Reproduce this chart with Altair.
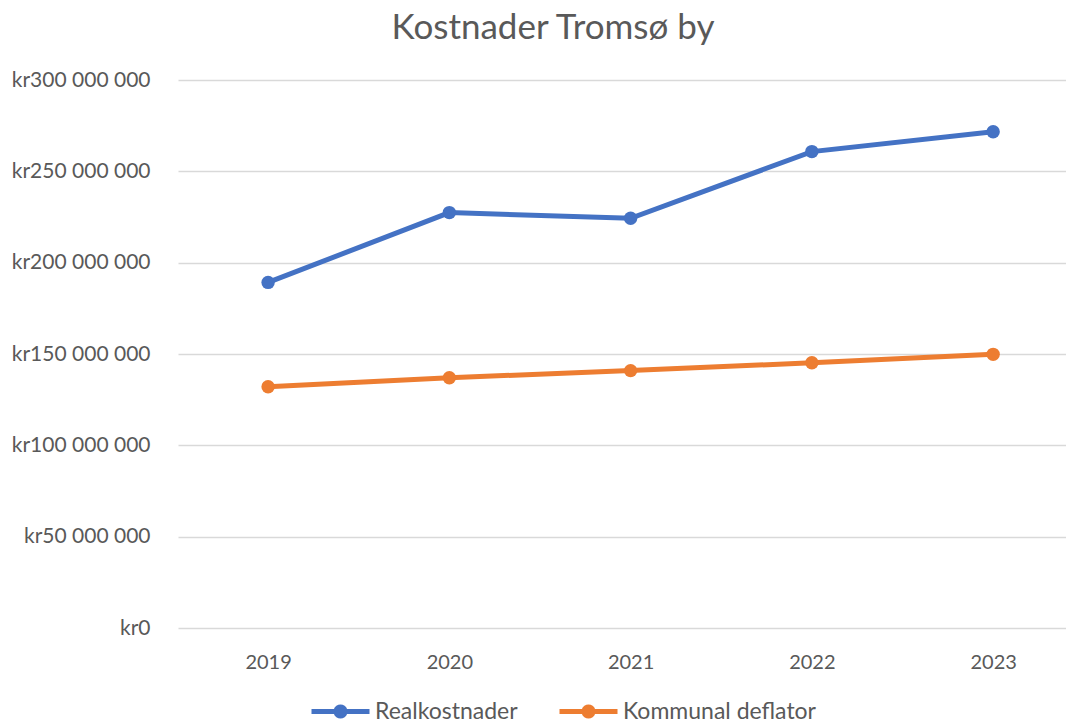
import math
import altair as alt
import pandas as pd

years = [2019, 2020, 2021, 2022, 2023]
realkostnader = [189.2e6, 227.4e6, 224.3e6, 260.8e6, 271.7e6]
deflator = [132.1e6, 137.0e6, 140.9e6, 145.2e6, 149.8e6]
series_names = ["Realkostnader", "Kommunal deflator"]
colors = ["#4472C4", "#ED7D31"]

rows = []
for y, v in zip(years, realkostnader):
    rows.append({"year": y, "value": v, "series": series_names[0]})
for y, v in zip(years, deflator):
    rows.append({"year": y, "value": v, "series": series_names[1]})
df = pd.DataFrame(rows)

FONT = "Lato"
GREY = "#595959"


def ring(r, n=20):
    pts = [(r * math.cos(2 * math.pi * i / n), r * math.sin(2 * math.pi * i / n)) for i in range(n)]
    return "M" + "L".join(f"{x:.4f},{y:.4f}" for x, y in pts) + "Z"


# legend symbol: line with a dot in the middle (unit square, scaled by sqrt(size))
legend_symbol = "M-1,0L1,0" + ring(0.155) + ring(0.07)

chart = alt.Chart(df).mark_line(
    strokeWidth=5,
    point=alt.OverlayMarkDef(size=180, filled=True, opacity=1),
).encode(
    x=alt.X("year:Q", title=None,
            scale=alt.Scale(domain=[2018.503, 2023.402], nice=False, zero=False),
            axis=alt.Axis(values=years, format="d", labelAngle=0, ticks=False,
                          domain=False, grid=False,
                          labelFontSize=20, labelColor=GREY, labelFont=FONT,
                          labelPadding=24)),
    y=alt.Y("value:Q", title=None,
            scale=alt.Scale(domain=[0, 300e6]),
            axis=alt.Axis(values=[0, 50e6, 100e6, 150e6, 200e6, 250e6, 300e6],
                          labelExpr="'kr' + replace(format(datum.value, ','), /,/g, ' ')",
                          ticks=False, domain=False, gridColor="#d9d9d9", gridWidth=1.5,
                          labelFontSize=21, labelColor=GREY, labelFont=FONT,
                          labelPadding=28)),
    color=alt.Color("series:N", sort=series_names,
                    scale=alt.Scale(domain=series_names, range=colors),
                    legend=alt.Legend(title=None, orient="none", direction="horizontal",
                                      legendX=131, legendY=600,
                                      symbolType=legend_symbol, symbolStrokeWidth=5,
                                      symbolSize=3364, columnPadding=31,
                                      labelFontSize=23, labelColor=GREY, labelFont=FONT,
                                      labelOffset=3, labelLimit=400)),
).properties(
    width=888,
    height=548,
    title=alt.TitleParams("Kostnader Tromsø by", fontSize=35, color=GREY, font=FONT,
                          fontWeight="normal", anchor="middle", frame="group",
                          offset=23, dx=-69),
    autosize=alt.AutoSizeParams(type="none"),
    padding={"left": 170, "top": 72, "right": 0, "bottom": 96},
).configure_view(stroke=None)

chart.save("out.html", embed_options={"renderer": "svg", "actions": False})
